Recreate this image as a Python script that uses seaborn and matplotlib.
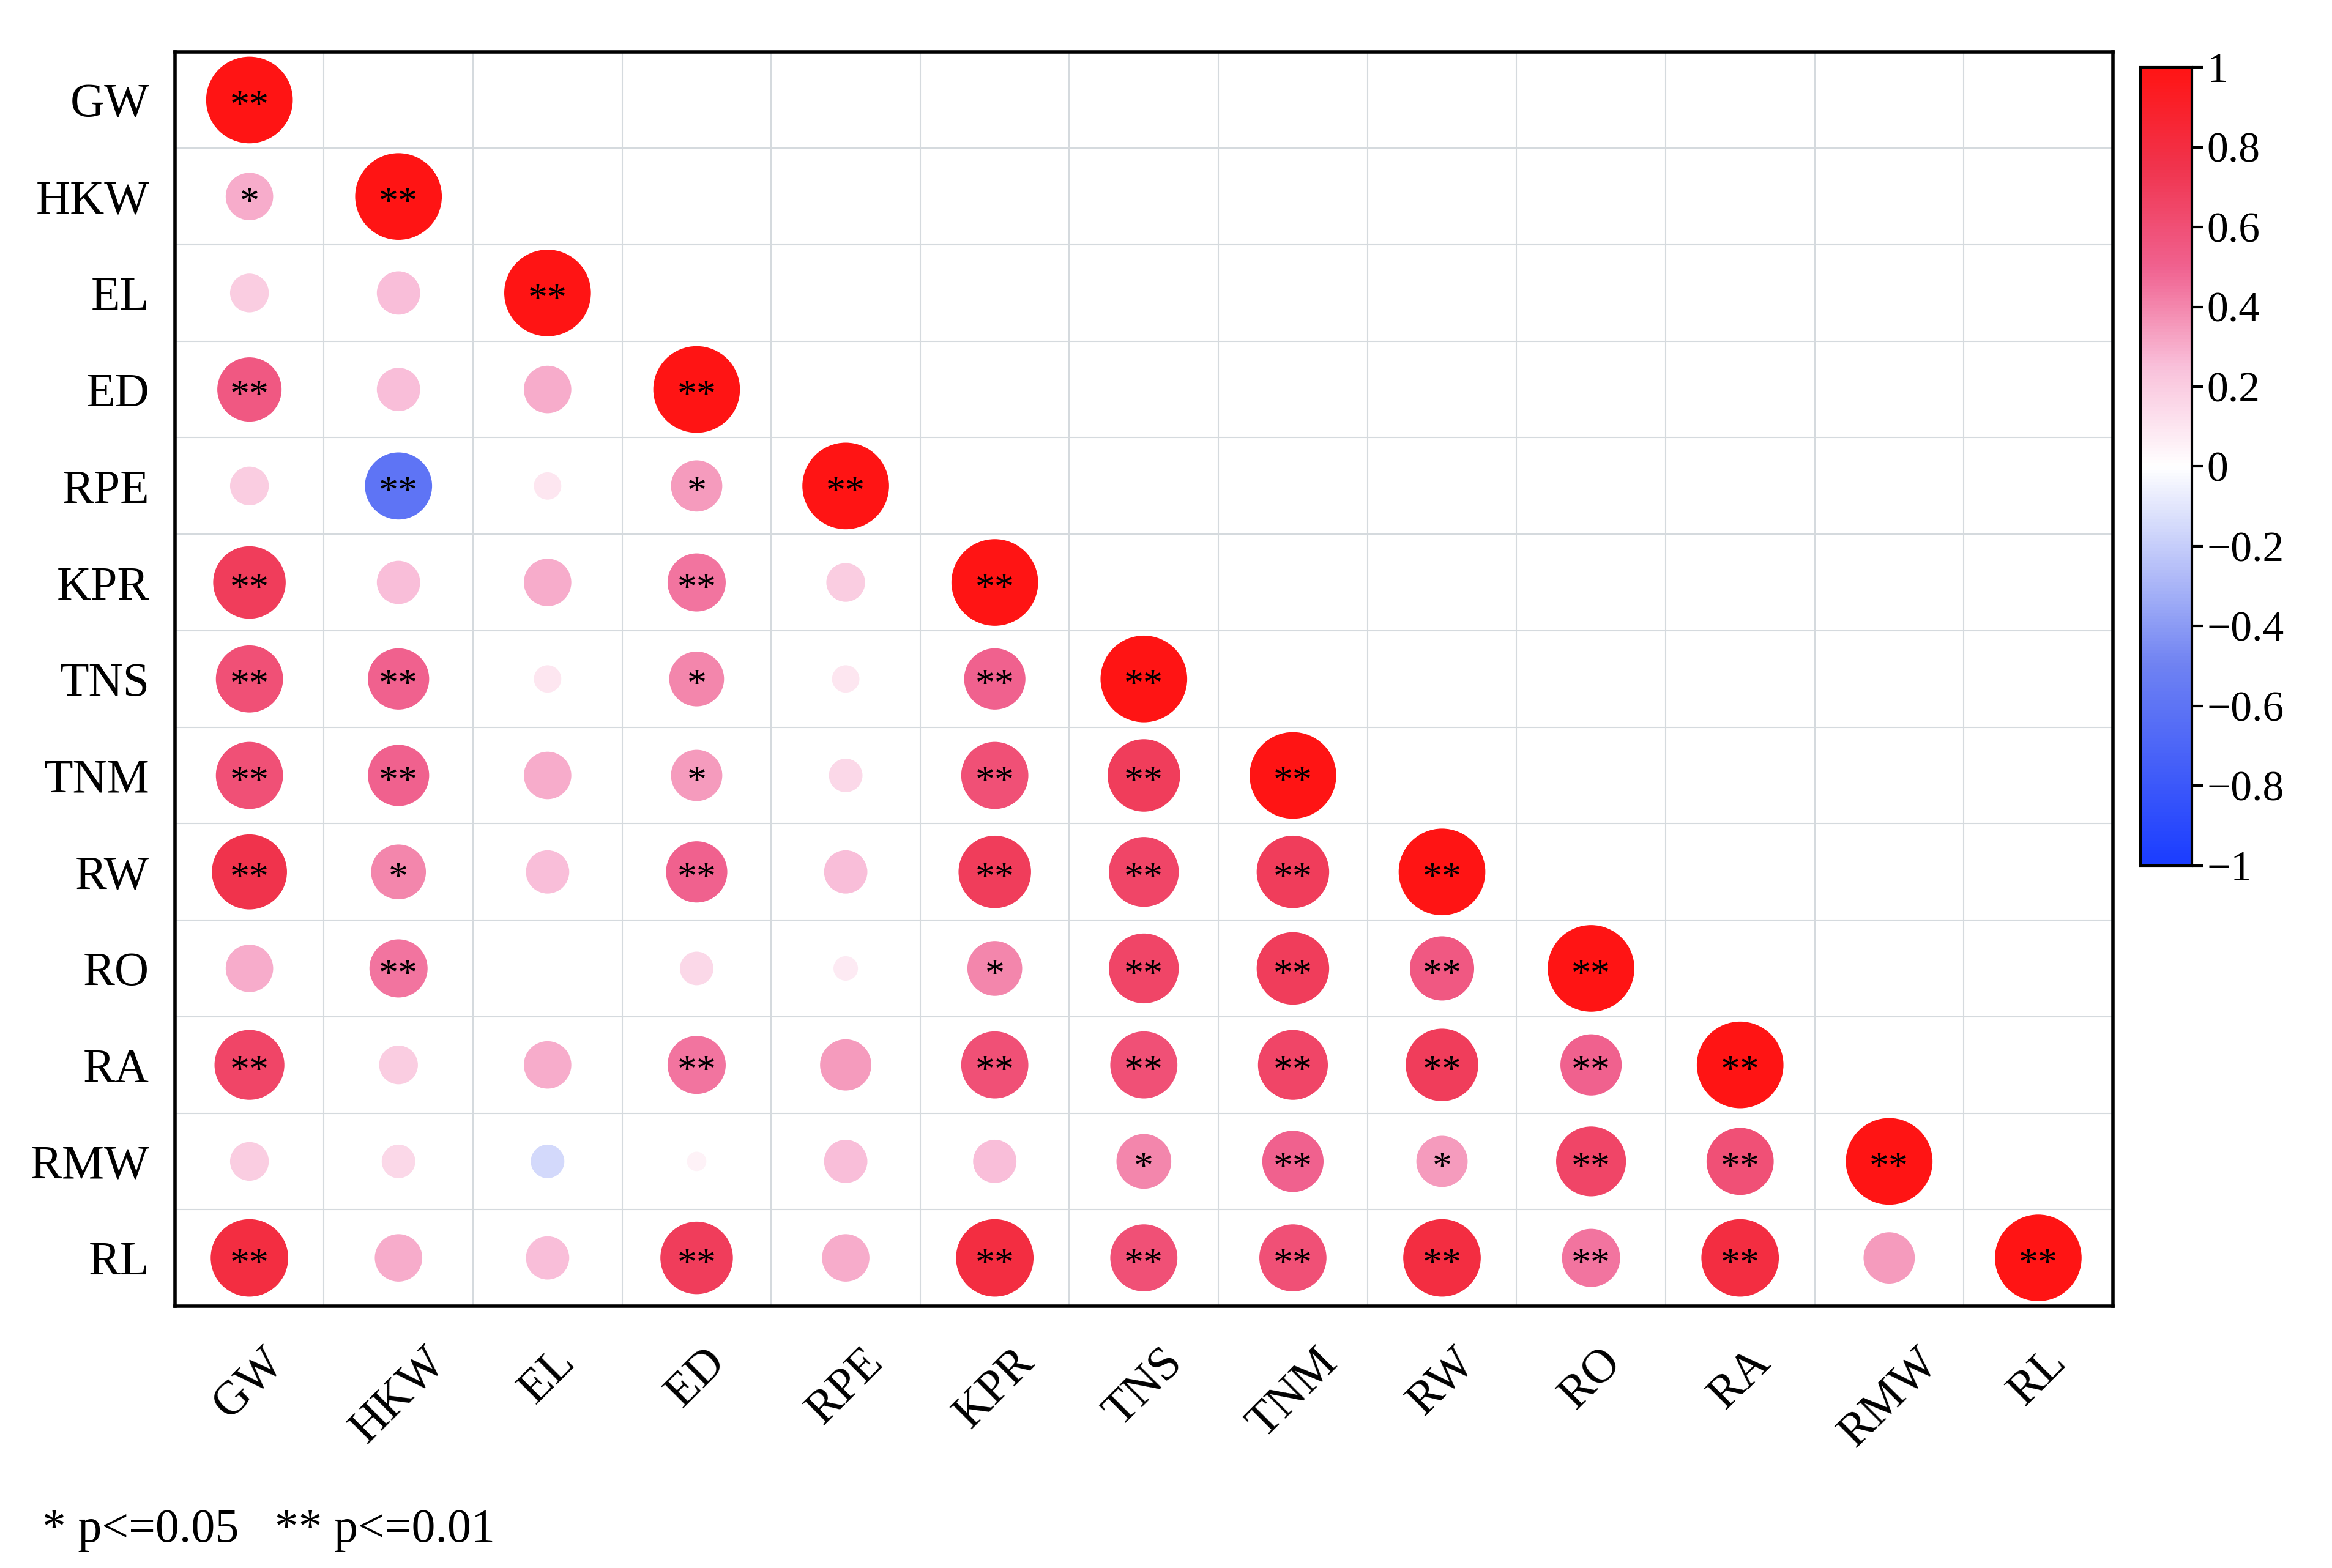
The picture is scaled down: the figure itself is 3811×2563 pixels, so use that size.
import numpy as np
import pandas as pd
import matplotlib
matplotlib.use("Agg")
import matplotlib.pyplot as plt
import seaborn as sns
from matplotlib.colors import LinearSegmentedColormap, Normalize
from matplotlib.cm import ScalarMappable

traits = ["GW","HKW","EL","ED","RPE","KPR","TNS","TNM","RW","RO","RA","RMW","RL"]
r_rows = [
    [1],
    [0.30, 1],
    [0.20, 0.25, 1],
    [0.55, 0.25, 0.30, 1],
    [0.20, -0.60, 0.10, 0.35, 1],
    [0.70, 0.25, 0.30, 0.45, 0.20, 1],
    [0.60, 0.50, 0.10, 0.40, 0.10, 0.50, 1],
    [0.60, 0.50, 0.30, 0.35, 0.15, 0.60, 0.70, 1],
    [0.75, 0.40, 0.25, 0.50, 0.25, 0.70, 0.65, 0.70, 1],
    [0.30, 0.45, 0.00, 0.15, 0.08, 0.40, 0.65, 0.70, 0.55, 1],
    [0.65, 0.20, 0.30, 0.45, 0.35, 0.60, 0.60, 0.65, 0.70, 0.50, 1],
    [0.20, 0.15, -0.15, 0.05, 0.25, 0.25, 0.40, 0.50, 0.35, 0.65, 0.60, 1],
    [0.80, 0.30, 0.25, 0.70, 0.30, 0.80, 0.60, 0.60, 0.80, 0.45, 0.80, 0.35, 1],
]
sig_rows = [
    ["**"],
    ["*", "**"],
    ["", "", "**"],
    ["**", "", "", "**"],
    ["", "**", "", "*", "**"],
    ["**", "", "", "**", "", "**"],
    ["**", "**", "", "*", "", "**", "**"],
    ["**", "**", "", "*", "", "**", "**", "**"],
    ["**", "*", "", "**", "", "**", "**", "**", "**"],
    ["", "**", "", "", "", "*", "**", "**", "**", "**"],
    ["**", "", "", "**", "", "**", "**", "**", "**", "**", "**"],
    ["", "", "", "", "", "", "*", "**", "*", "**", "**", "**"],
    ["**", "", "", "**", "", "**", "**", "**", "**", "**", "**", "", "**"],
]
footnote = "* p<=0.05   ** p<=0.01"

recs = []
for i, row in enumerate(r_rows):
    for j, v in enumerate(row):
        recs.append(dict(x=j, y=i, r=v, a=abs(v), sig=sig_rows[i][j]))
df = pd.DataFrame(recs)

cmap = LinearSegmentedColormap.from_list("c", [
    (0.0, "#1a3cff"), (0.25, "#6f82f2"), (0.5, "#ffffff"),
    (0.625, "#f9c0da"), (0.75, "#f06290"), (0.875, "#f0344e"), (1.0, "#ff1414")])

plt.rcParams["font.family"] = ["Liberation Serif", "DejaVu Serif"]
fig = plt.figure(figsize=(38.11, 25.63), dpi=100)
ax = fig.add_axes([0.075, 0.167, 0.831, 0.800])
n = len(traits)
for k in range(1, n):
    ax.axvline(k - 0.5, color="#d5dade", lw=1.5, zorder=0)
    ax.axhline(k - 0.5, color="#d5dade", lw=1.5, zorder=0)

sns.scatterplot(data=df, x="x", y="y", hue="r", size="a", palette=cmap,
                hue_norm=(-1, 1), sizes=(0, 10400), size_norm=(0, 1),
                legend=False, linewidth=0, ax=ax, zorder=2)
for _, rr in df.iterrows():
    if rr.sig:
        ax.text(rr.x, rr.y + 0.08, rr.sig, ha="center", va="center", fontsize=46, zorder=3)

ax.set_xlim(-0.5, n - 0.5)
ax.set_ylim(n - 0.5, -0.5)
ax.set_xticks(range(n))
ax.set_xticklabels(traits, rotation=45, ha="center", fontsize=56)
ax.set_yticks(range(n))
ax.set_yticklabels(traits, fontsize=56)
ax.tick_params(length=0, pad=30)
ax.tick_params(axis="x", pad=40)
ax.set_xlabel(""); ax.set_ylabel("")
for s in ax.spines.values():
    s.set_linewidth(4)

cax = fig.add_axes([0.918, 0.448, 0.022, 0.509])
cb = fig.colorbar(ScalarMappable(norm=Normalize(-1, 1), cmap=cmap), cax=cax)
cb.set_ticks(np.linspace(-1, 1, 11))
cb.set_ticklabels(["\u22121", "\u22120.8", "\u22120.6", "\u22120.4", "\u22120.2", "0",
                   "0.2", "0.4", "0.6", "0.8", "1"])
cax.tick_params(labelsize=50, width=3, length=14)
cb.outline.set_linewidth(3)

fig.text(0.018, 0.01, footnote, fontsize=56, ha="left", va="bottom")
fig.savefig("out.png", dpi=100)
